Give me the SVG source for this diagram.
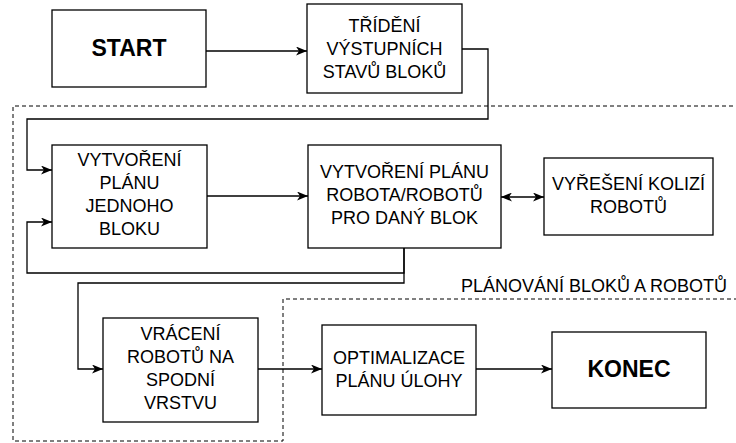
<svg xmlns="http://www.w3.org/2000/svg" width="736" height="443" viewBox="0 0 736 443">
<style>
.box{fill:#fff;stroke:#000;stroke-width:1.3}
.t{font-family:"Liberation Sans",Arial,sans-serif;font-size:18px;fill:#000;text-anchor:middle}
.b{font-family:"Liberation Sans",Arial,sans-serif;font-size:23px;font-weight:bold;fill:#000;text-anchor:middle}
.c{fill:none;stroke:#000;stroke-width:1.3}
.d{fill:none;stroke:#000;stroke-width:1;stroke-dasharray:4 3}
</style>
<defs>
<marker id="ah" viewBox="0 0 11 9" refX="11" refY="4.5" markerWidth="11" markerHeight="9" markerUnits="userSpaceOnUse" orient="auto-start-reverse">
<path d="M0,0 L11,4.5 L0,9 L3,4.5 z" fill="#000"/>
</marker>
</defs>
<g id="group-planovani">
<path class="d" d="M740,106 H13 V441 H283 V299 H740"/>
<text class="t" x="727" y="292" style="text-anchor:end">PLÁNOVÁNÍ BLOKŮ A ROBOTŮ</text>
</g>
<g id="connectors">
<path class="c" d="M206,51 H307" marker-end="url(#ah)"/>
<path class="c" d="M462,49 H488 V119 H27 V170 H52" marker-end="url(#ah)"/>
<path class="c" d="M207,196 H308" marker-end="url(#ah)"/>
<path class="c" d="M501,197 H544" marker-start="url(#ah)" marker-end="url(#ah)"/>
<path class="c" d="M404,248 V273 H27 V222 H52" marker-end="url(#ah)"/>
<path class="c" d="M404,248 V283 H78 V369 H103" marker-end="url(#ah)"/>
<path class="c" d="M258,369 H322" marker-end="url(#ah)"/>
<path class="c" d="M476,369 H552" marker-end="url(#ah)"/>
</g>
<g id="start">
<rect class="box" x="52" y="10" width="154" height="77"/>
<text class="b" x="129" y="56">START</text>
</g>
<g id="trideni">
<rect class="box" x="307" y="4" width="155" height="89"/>
<text class="t" x="384.5" y="32">TŘÍDĚNÍ</text>
<text class="t" x="384.5" y="55">VÝSTUPNÍCH</text>
<text class="t" x="384.5" y="78">STAVŮ BLOKŮ</text>
</g>
<g id="vytvoreni-bloku">
<rect class="box" x="52" y="145" width="155" height="103"/>
<text class="t" x="129.5" y="166">VYTVOŘENÍ</text>
<text class="t" x="129.5" y="189">PLÁNU</text>
<text class="t" x="129.5" y="212">JEDNOHO</text>
<text class="t" x="129.5" y="235">BLOKU</text>
</g>
<g id="vytvoreni-robota">
<rect class="box" x="308" y="145" width="193" height="103"/>
<text class="t" x="404.5" y="178">VYTVOŘENÍ PLÁNU</text>
<text class="t" x="404.5" y="201">ROBOTA/ROBOTŮ</text>
<text class="t" x="404.5" y="224">PRO DANÝ BLOK</text>
</g>
<g id="kolize">
<rect class="box" x="544" y="158" width="169" height="77"/>
<text class="t" x="628.5" y="190">VYŘEŠENÍ KOLIZÍ</text>
<text class="t" x="628.5" y="213">ROBOTŮ</text>
</g>
<g id="vraceni">
<rect class="box" x="103" y="318" width="155" height="104"/>
<text class="t" x="180.5" y="340">VRÁCENÍ</text>
<text class="t" x="180.5" y="363">ROBOTŮ NA</text>
<text class="t" x="180.5" y="386">SPODNÍ</text>
<text class="t" x="180.5" y="409">VRSTVU</text>
</g>
<g id="optimalizace">
<rect class="box" x="322" y="325" width="154" height="90"/>
<text class="t" x="399" y="364">OPTIMALIZACE</text>
<text class="t" x="399" y="387">PLÁNU ÚLOHY</text>
</g>
<g id="konec">
<rect class="box" x="552" y="332" width="154" height="76"/>
<text class="b" x="629" y="377">KONEC</text>
</g>
</svg>
